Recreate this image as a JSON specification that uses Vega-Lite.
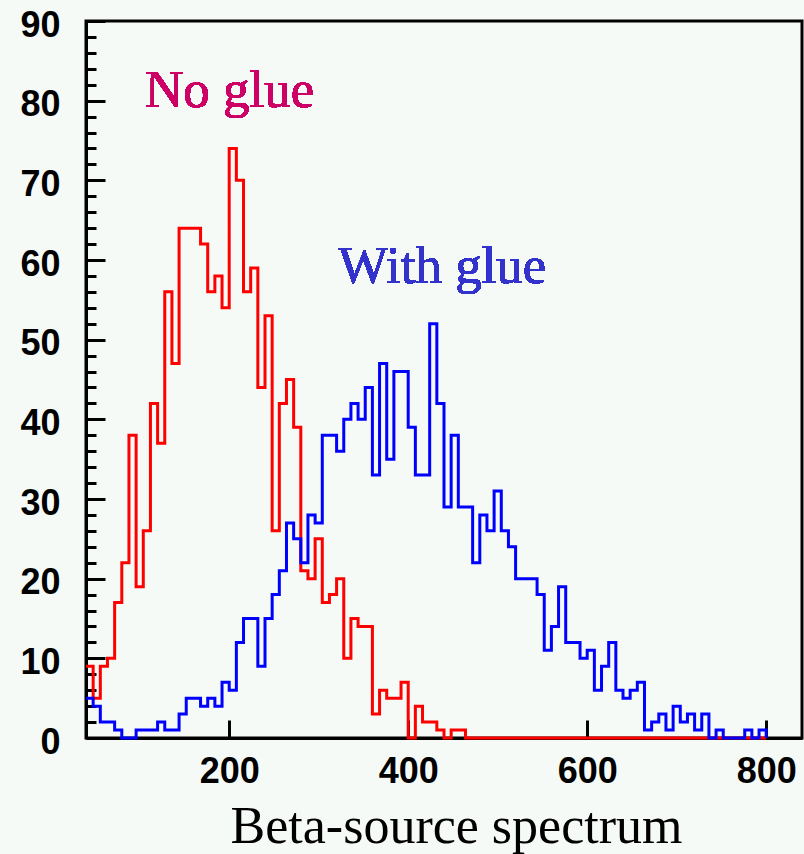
{
  "$schema": "https://vega.github.io/schema/vega-lite/v6.json",
  "width": 716,
  "height": 717,
  "autosize": {"type": "none"},
  "padding": {"left": 86, "top": 21, "right": 2, "bottom": 116},
  "background": "#F5FAF7",
  "config": {
    "view": {"stroke": "#000000", "strokeWidth": 3},
    "axis": {
      "grid": false,
      "domainColor": "#000000",
      "domainWidth": 3,
      "tickColor": "#000000",
      "tickWidth": 3,
      "labelColor": "#000000",
      "labelFont": "Liberation Sans",
      "labelFontSize": 36,
      "labelFontWeight": "bold",
      "labelOverlap": false,
      "labelFlush": false,
      "labelBound": false
    }
  },
  "data": {
    "values": [
      {"energy": 40, "no_glue": 9, "with_glue": 5},
      {"energy": 48, "no_glue": 5, "with_glue": 4},
      {"energy": 56, "no_glue": 9, "with_glue": 2},
      {"energy": 64, "no_glue": 10, "with_glue": 2},
      {"energy": 72, "no_glue": 17, "with_glue": 1},
      {"energy": 80, "no_glue": 22, "with_glue": 0},
      {"energy": 88, "no_glue": 38, "with_glue": 0},
      {"energy": 96, "no_glue": 19, "with_glue": 1},
      {"energy": 104, "no_glue": 26, "with_glue": 1},
      {"energy": 112, "no_glue": 42, "with_glue": 1},
      {"energy": 120, "no_glue": 37, "with_glue": 2},
      {"energy": 128, "no_glue": 56, "with_glue": 1},
      {"energy": 136, "no_glue": 47, "with_glue": 1},
      {"energy": 144, "no_glue": 64, "with_glue": 3},
      {"energy": 152, "no_glue": 64, "with_glue": 5},
      {"energy": 160, "no_glue": 64, "with_glue": 5},
      {"energy": 168, "no_glue": 62, "with_glue": 4},
      {"energy": 176, "no_glue": 56, "with_glue": 5},
      {"energy": 184, "no_glue": 58, "with_glue": 4},
      {"energy": 192, "no_glue": 54, "with_glue": 7},
      {"energy": 200, "no_glue": 74, "with_glue": 6},
      {"energy": 208, "no_glue": 70, "with_glue": 12},
      {"energy": 216, "no_glue": 56, "with_glue": 15},
      {"energy": 224, "no_glue": 59, "with_glue": 15},
      {"energy": 232, "no_glue": 44, "with_glue": 9},
      {"energy": 240, "no_glue": 53, "with_glue": 15},
      {"energy": 248, "no_glue": 26, "with_glue": 18},
      {"energy": 256, "no_glue": 42, "with_glue": 21},
      {"energy": 264, "no_glue": 45, "with_glue": 27},
      {"energy": 272, "no_glue": 39, "with_glue": 25},
      {"energy": 280, "no_glue": 21, "with_glue": 22},
      {"energy": 288, "no_glue": 20, "with_glue": 28},
      {"energy": 296, "no_glue": 25, "with_glue": 27},
      {"energy": 304, "no_glue": 17, "with_glue": 38},
      {"energy": 312, "no_glue": 18, "with_glue": 38},
      {"energy": 320, "no_glue": 20, "with_glue": 36},
      {"energy": 328, "no_glue": 10, "with_glue": 40},
      {"energy": 336, "no_glue": 15, "with_glue": 42},
      {"energy": 344, "no_glue": 14, "with_glue": 40},
      {"energy": 352, "no_glue": 14, "with_glue": 44},
      {"energy": 360, "no_glue": 3, "with_glue": 33},
      {"energy": 368, "no_glue": 6, "with_glue": 47},
      {"energy": 376, "no_glue": 5, "with_glue": 35},
      {"energy": 384, "no_glue": 5, "with_glue": 46},
      {"energy": 392, "no_glue": 7, "with_glue": 46},
      {"energy": 400, "no_glue": 0, "with_glue": 39},
      {"energy": 408, "no_glue": 4, "with_glue": 33},
      {"energy": 416, "no_glue": 2, "with_glue": 33},
      {"energy": 424, "no_glue": 2, "with_glue": 52},
      {"energy": 432, "no_glue": 1, "with_glue": 42},
      {"energy": 440, "no_glue": 0, "with_glue": 29},
      {"energy": 448, "no_glue": 1, "with_glue": 38},
      {"energy": 456, "no_glue": 1, "with_glue": 29},
      {"energy": 464, "no_glue": 0, "with_glue": 29},
      {"energy": 472, "no_glue": 0, "with_glue": 22},
      {"energy": 480, "no_glue": 0, "with_glue": 28},
      {"energy": 488, "no_glue": 0, "with_glue": 26},
      {"energy": 496, "no_glue": 0, "with_glue": 31},
      {"energy": 504, "no_glue": 0, "with_glue": 26},
      {"energy": 512, "no_glue": 0, "with_glue": 24},
      {"energy": 520, "no_glue": 0, "with_glue": 20},
      {"energy": 528, "no_glue": 0, "with_glue": 20},
      {"energy": 536, "no_glue": 0, "with_glue": 20},
      {"energy": 544, "no_glue": 0, "with_glue": 18},
      {"energy": 552, "no_glue": 0, "with_glue": 11},
      {"energy": 560, "no_glue": 0, "with_glue": 14},
      {"energy": 568, "no_glue": 0, "with_glue": 19},
      {"energy": 576, "no_glue": 0, "with_glue": 12},
      {"energy": 584, "no_glue": 0, "with_glue": 12},
      {"energy": 592, "no_glue": 0, "with_glue": 10},
      {"energy": 600, "no_glue": 0, "with_glue": 11},
      {"energy": 608, "no_glue": 0, "with_glue": 6},
      {"energy": 616, "no_glue": 0, "with_glue": 9},
      {"energy": 624, "no_glue": 0, "with_glue": 12},
      {"energy": 632, "no_glue": 0, "with_glue": 6},
      {"energy": 640, "no_glue": 0, "with_glue": 5},
      {"energy": 648, "no_glue": 0, "with_glue": 6},
      {"energy": 656, "no_glue": 0, "with_glue": 7},
      {"energy": 664, "no_glue": 0, "with_glue": 1},
      {"energy": 672, "no_glue": 0, "with_glue": 2},
      {"energy": 680, "no_glue": 0, "with_glue": 3},
      {"energy": 688, "no_glue": 0, "with_glue": 1},
      {"energy": 696, "no_glue": 0, "with_glue": 4},
      {"energy": 704, "no_glue": 0, "with_glue": 2},
      {"energy": 712, "no_glue": 0, "with_glue": 3},
      {"energy": 720, "no_glue": 0, "with_glue": 1},
      {"energy": 728, "no_glue": 0, "with_glue": 3},
      {"energy": 736, "no_glue": 0, "with_glue": 0},
      {"energy": 744, "no_glue": 0, "with_glue": 1},
      {"energy": 752, "no_glue": 0, "with_glue": 0},
      {"energy": 760, "no_glue": 0, "with_glue": 0},
      {"energy": 768, "no_glue": 0, "with_glue": 0},
      {"energy": 776, "no_glue": 0, "with_glue": 1},
      {"energy": 784, "no_glue": 0, "with_glue": 0},
      {"energy": 792, "no_glue": 0, "with_glue": 1},
      {"energy": 800, "no_glue": 0, "with_glue": 0}
    ]
  },
  "resolve": {"axis": {"y": "independent"}},
  "layer": [
    {
      "transform": [{"fold": ["no_glue", "with_glue"], "as": ["sample", "count"]}],
      "mark": {"type": "line", "interpolate": "step-after", "strokeWidth": 3, "clip": false},
      "encoding": {
        "x": {
          "field": "energy",
          "type": "quantitative",
          "scale": {"domain": [40, 840], "nice": false, "zero": false},
          "axis": {
            "values": [200, 400, 600, 800],
            "format": "d",
            "tickSize": -18,
            "labelPadding": 34,
            "title": "Beta-source spectrum",
            "titleFont": "Liberation Serif",
            "titleFontSize": 52,
            "titleFontWeight": "normal",
            "titleColor": "#000000",
            "titleAnchor": null,
            "titleAlign": "center",
            "titleBaseline": "alphabetic",
            "titleX": 370,
            "titleY": 104
          }
        },
        "y": {
          "field": "count",
          "type": "quantitative",
          "scale": {"domain": [0, 90], "nice": false},
          "axis": {
            "orient": "left",
            "values": [0, 10, 20, 30, 40, 50, 60, 70, 80, 90],
            "tickSize": -19,
            "labelPadding": 45,
            "labelOffset": 4,
            "title": null
          }
        },
        "color": {
          "field": "sample",
          "type": "nominal",
          "scale": {"domain": ["no_glue", "with_glue"], "range": ["#FF0000", "#0000FF"]},
          "legend": null
        }
      }
    },
    {
      "mark": {"type": "text", "text": "No glue", "font": "Liberation Serif", "fontSize": 53, "fontWeight": "normal", "color": "#CC0066", "align": "left", "baseline": "alphabetic"},
      "encoding": {
        "x": {"datum": 106, "type": "quantitative"},
        "y": {
          "datum": 79.2,
          "type": "quantitative",
          "axis": {
            "orient": "left",
            "values": [2, 4, 6, 8, 12, 14, 16, 18, 22, 24, 26, 28, 32, 34, 36, 38, 42, 44, 46, 48, 52, 54, 56, 58, 62, 64, 66, 68, 72, 74, 76, 78, 82, 84, 86, 88],
            "tickSize": -10,
            "labels": false,
            "domain": false,
            "title": null
          }
        }
      }
    },
    {
      "mark": {"type": "text", "text": "With glue", "font": "Liberation Serif", "fontSize": 53, "fontWeight": "normal", "color": "#3333CC", "align": "left", "baseline": "alphabetic"},
      "encoding": {
        "x": {"datum": 321.6, "type": "quantitative"},
        "y": {"datum": 57.1, "type": "quantitative", "axis": null}
      }
    }
  ]
}
